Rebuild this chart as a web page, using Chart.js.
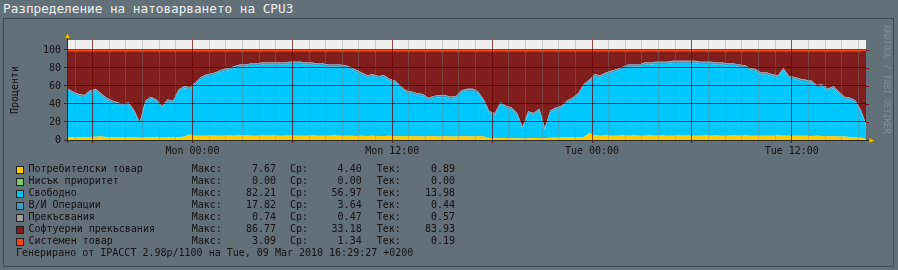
<!DOCTYPE html>
<html>
<head>
<meta charset="utf-8">
<script src="https://cdn.jsdelivr.net/npm/chart.js@4.4.1/dist/chart.umd.min.js"></script>
<style>
  body { margin: 0; background: #617079; }
  #wrap { position: relative; width: 898px; height: 270px; background: #617079; overflow: hidden;
          font-family: 'DejaVu Sans Mono', monospace; }
  #frame { position: absolute; left: 3px; top: 18px; width: 891px; height: 249px; box-sizing: border-box;
           border: 1px solid #3f4b53; }
  #title { position: absolute; left: 3px; top: 1px; font-size: 12.7px; line-height: 15px; color: #f0f0f0; white-space: pre; }
  #cpuChart { position: absolute; left: 0; top: 0; }
  .row { position: absolute; left: 0; width: 898px; height: 12px; font-size: 10px; line-height: 12px; color: #111; white-space: pre; }
  .row span { position: absolute; top: 0; }
  .row .num { text-align: right; }
  .box { position: absolute; width: 8px; height: 8px; box-sizing: border-box; border: 1px solid #222; }
  #wm { position: absolute; left: 882px; top: 25px; writing-mode: vertical-rl; font-size: 8.2px; line-height: 10px;
        color: #7f8c95; white-space: pre; }
</style>
</head>
<body>
<div id="wrap">
  <div id="frame"></div>
  <div id="title">Разпределение на натоварването на CPU3</div>
  <canvas id="cpuChart" width="898" height="270"></canvas>
  <div id="legend"></div>
  <div id="wm">RRDTOOL / TOBI OETIKER</div>
</div>
<script>
// samples every 20 minutes, hours relative to Mon 00:00
const startHour = -7.5;
const stepHours = 1 / 3;

const user = [
  3.2,3.0,3.3,3.1,3.2,3.5,4.0,3.4,3.0,3.1,2.9,3.0,2.8,2.6,2.9,3.1,3.0,3.2,3.3,3.1,3.4,3.6,
  6.0,4.7,4.8,4.6,4.9,4.7,4.8,5.0,4.8,4.9,5.2,4.8,4.7,4.9,4.8,5.0,4.7,4.8,4.9,4.6,
  4.8,4.7,4.9,4.8,4.6,4.7,4.9,4.8,4.6,4.7,4.5,4.6,4.4,4.6,4.5,4.4,4.6,4.3,4.2,4.4,
  4.1,4.2,4.0,4.1,4.2,4.0,4.1,3.9,4.0,4.2,4.1,4.0,4.2,3.8,2.2,2.0,2.1,2.3,2.0,1.9,
  1.8,2.0,2.2,2.1,2.0,2.4,2.6,2.8,3.0,2.9,3.1,3.2,7.5,5.2,4.8,4.9,4.7,4.8,5.0,4.8,
  4.9,4.7,4.8,5.1,4.8,4.9,4.7,4.8,5.0,4.8,4.9,4.7,4.8,5.0,4.8,4.9,4.7,4.8,5.1,4.8,
  4.9,4.7,4.8,4.6,4.8,4.7,4.9,4.8,4.6,4.7,4.8,4.6,4.5,4.6,4.4,4.3,4.2,4.0,3.8,3.2,
  2.9,2.4,0.89
];
const free = [
  51.3,48.5,45.2,44.4,49.3,51.0,45.5,41.1,38.5,36.4,34.6,36.5,27.7,14.9,38.6,42.4,39.5,32.3,39.2,38.4,50.1,53.9,
  50.5,56.8,62.7,65.9,66.6,68.8,71.7,72.5,74.7,76.6,76.3,77.7,77.8,78.6,78.7,78.5,78.8,78.7,79.6,79.9,
  79.7,78.8,78.6,77.7,77.9,76.8,76.6,76.7,75.9,73.8,71.0,67.9,65.1,65.9,64.0,65.1,60.9,59.2,53.3,48.1,
  47.4,45.3,44.5,40.4,42.3,43.5,43.4,41.6,42.5,48.3,50.4,50.5,47.3,38.7,27.3,25.5,37.4,33.2,31.5,25.6,
  10.7,27.5,25.3,30.4,9.5,28.1,30.9,32.7,38.5,41.6,46.4,56.3,57.0,65.3,64.7,67.6,69.8,71.7,73.5,76.7,
  76.6,76.8,78.7,78.4,79.7,79.6,79.8,80.7,80.5,80.7,80.6,80.8,79.7,79.5,79.7,78.6,78.8,77.7,77.4,76.7,
  75.6,72.8,71.7,67.9,67.7,65.8,64.6,72.7,63.9,62.8,60.7,59.9,59.0,53.9,55.1,50.2,53.3,47.5,41.7,41.3,
  38.6,28.1,13.98
];
const iowait = [
  2,2,2,2,2,2,2,2,2,2,2,2,2,2,2,2,2,2,2,2,2,2,
  2,2,2,2,2,2,2,2,2,2,2,2,2,2,2,2,2,2,2,2,
  2,2,2,2,2,2,2,2,2,2,2,2,2,2,2,2,2,2,2,2,
  2,2,2,2,2,2,2,2,2,2,2,2,2,2,2,2,2,2,2,2,
  2,2,2,2,2,2,2,2,2,2,2,2,2,2,2,2,2,2,2,2,
  2,2,2,2,2,2,2,2,2,2,2,2,2,2,2,2,2,2,2,2,
  2,2,2,2,2,2,2,2,2,2,2,2,2,2,2,2,2,2,2,2,
  2,2,0.44
];
const irq = [
  0.5,0.5,0.5,0.5,0.5,0.5,0.5,0.5,0.5,0.5,0.5,0.5,0.5,0.5,0.5,0.5,0.5,0.5,0.5,0.5,0.5,0.5,
  0.5,0.5,0.5,0.5,0.5,0.5,0.5,0.5,0.5,0.5,0.5,0.5,0.5,0.5,0.5,0.5,0.5,0.5,0.5,0.5,
  0.5,0.5,0.5,0.5,0.5,0.5,0.5,0.5,0.5,0.5,0.5,0.5,0.5,0.5,0.5,0.5,0.5,0.5,0.5,0.5,
  0.5,0.5,0.5,0.5,0.5,0.5,0.5,0.5,0.5,0.5,0.5,0.5,0.5,0.5,0.5,0.5,0.5,0.5,0.5,0.5,
  0.5,0.5,0.5,0.5,0.5,0.5,0.5,0.5,0.5,0.5,0.5,0.5,0.5,0.5,0.5,0.5,0.5,0.5,0.5,0.5,
  0.5,0.5,0.5,0.5,0.5,0.5,0.5,0.5,0.5,0.5,0.5,0.5,0.5,0.5,0.5,0.5,0.5,0.5,0.5,0.5,
  0.5,0.5,0.5,0.5,0.5,0.5,0.5,0.5,0.5,0.5,0.5,0.5,0.5,0.5,0.5,0.5,0.5,0.5,0.5,0.5,
  0.5,0.5,0.57
];
const softirq = [
  41.7,44.7,47.7,48.7,43.7,41.7,46.7,51.7,54.7,56.7,58.7,56.7,65.7,78.7,54.7,50.7,53.7,60.7,53.7,54.7,42.7,38.7,
  39.7,34.7,28.7,25.7,24.7,22.7,19.7,18.7,16.7,14.7,14.7,13.7,13.7,12.7,12.7,12.7,12.7,12.7,11.7,11.7,
  11.7,12.7,12.7,13.7,13.7,14.7,14.7,14.7,15.7,17.7,20.7,23.7,26.7,25.7,27.7,26.7,30.7,32.7,38.7,43.7,
  44.7,46.7,47.7,51.7,49.7,48.7,48.7,50.7,49.7,43.7,41.7,41.7,44.7,53.7,66.7,68.7,56.7,60.7,62.7,68.7,
  83.7,66.7,68.7,63.7,84.7,65.7,62.7,60.7,54.7,51.7,46.7,36.7,31.7,25.7,26.7,23.7,21.7,19.7,17.7,14.7,
  14.7,14.7,12.7,12.7,11.7,11.7,11.7,10.7,10.7,10.7,10.7,10.7,11.7,11.7,11.7,12.7,12.7,13.7,13.7,14.7,
  15.7,18.7,19.7,23.7,23.7,25.7,26.7,18.7,27.7,28.7,30.7,31.7,32.7,37.7,36.7,41.7,38.7,44.7,50.7,51.7,
  54.7,65.7,83.93
];
const system = [
  1.3,1.3,1.3,1.3,1.3,1.3,1.3,1.3,1.3,1.3,1.3,1.3,1.3,1.3,1.3,1.3,1.3,1.3,1.3,1.3,1.3,1.3,
  1.3,1.3,1.3,1.3,1.3,1.3,1.3,1.3,1.3,1.3,1.3,1.3,1.3,1.3,1.3,1.3,1.3,1.3,1.3,1.3,
  1.3,1.3,1.3,1.3,1.3,1.3,1.3,1.3,1.3,1.3,1.3,1.3,1.3,1.3,1.3,1.3,1.3,1.3,1.3,1.3,
  1.3,1.3,1.3,1.3,1.3,1.3,1.3,1.3,1.3,1.3,1.3,1.3,1.3,1.3,1.3,1.3,1.3,1.3,1.3,1.3,
  1.3,1.3,1.3,1.3,1.3,1.3,1.3,1.3,1.3,1.3,1.3,1.3,1.3,1.3,1.3,1.3,1.3,1.3,1.3,1.3,
  1.3,1.3,1.3,1.3,1.3,1.3,1.3,1.3,1.3,1.3,1.3,1.3,1.3,1.3,1.3,1.3,1.3,1.3,1.3,1.3,
  1.3,1.3,1.3,1.3,1.3,1.3,1.3,1.3,1.3,1.3,1.3,1.3,1.3,1.3,1.3,1.3,1.3,1.3,1.3,1.3,
  1.3,1.3,0.19
];

// legend rows
const seriesNames = ["Потребителски товар", "Нисък приоритет", "Свободно", "В/И Операции",
                     "Прекъсвания", "Софтуерни прекъсвания", "Системен товар"];
const seriesColors = ["#ffcc00", "#77cc66", "#00c8ff", "#3aa0c8", "#a0a0a0", "#801e1e", "#ff4410"];
const maxVals = [7.67, 0.00, 82.21, 17.82, 0.74, 86.77, 3.09];
const avgVals = [4.40, 0.00, 56.97, 3.64, 0.47, 33.18, 1.34];
const curVals = [0.89, 0.00, 13.98, 0.44, 0.57, 83.93, 0.19];
const footerText = "Генерирано от IPACCT 2.98p/1100 на Tue, 09 Mar 2010 16:29:27 +0200";

const yTicks = [0, 20, 40, 60, 80, 100];
const xLabelHours = [0, 12, 24, 36];
const xLabelTexts = ["Mon 00:00", "Mon 12:00", "Tue 00:00", "Tue 12:00"];

const times = user.map((_, i) => startHour + i * stepHours);
const pts = arr => arr.map((v, i) => ({ x: times[i], y: v }));

const hourTicks = [];
for (let h = -7; h <= 40; h++) hourTicks.push(h);

const monoFont = { family: "'DejaVu Sans Mono', monospace", size: 10 };

// ---- legend (html) ----
const legendEl = document.getElementById("legend");
function addSpan(row, text, left, width, cls) {
  const s = document.createElement("span");
  s.textContent = text;
  s.style.left = left + "px";
  if (width) s.style.width = width + "px";
  if (cls) s.className = cls;
  row.appendChild(s);
}
seriesNames.forEach((name, i) => {
  const row = document.createElement("div");
  row.className = "row";
  row.style.top = (163 + 12 * i) + "px";
  const box = document.createElement("div");
  box.className = "box";
  box.style.left = "16px";
  box.style.top = "3px";
  box.style.background = seriesColors[i];
  row.appendChild(box);
  addSpan(row, name, 28.5);
  addSpan(row, "Макс:", 191.7);
  addSpan(row, maxVals[i].toFixed(2), 216, 60, "num");
  addSpan(row, "Ср:", 290);
  addSpan(row, avgVals[i].toFixed(2), 301.7, 60, "num");
  addSpan(row, "Тек:", 376.7);
  addSpan(row, curVals[i].toFixed(2), 395, 60, "num");
  legendEl.appendChild(row);
});
const foot = document.createElement("div");
foot.className = "row";
foot.style.top = (163 + 12 * 7) + "px";
addSpan(foot, footerText, 16);
legendEl.appendChild(foot);

// ---- chart ----
const plotDeco = {
  id: "plotDeco",
  beforeDatasetsDraw(chart) {
    const { ctx, chartArea: a } = chart;
    ctx.save();
    ctx.fillStyle = "#efefef";
    ctx.fillRect(a.left, a.top, a.right - a.left, a.bottom - a.top);
    ctx.restore();
  },
  afterDraw(chart) {
    const { ctx, chartArea: a, scales } = chart;
    ctx.save();
    ctx.lineWidth = 1;
    // small marks to the right of the plot
    ctx.strokeStyle = "rgba(120,10,10,0.9)";
    yTicks.forEach(v => {
      const py = Math.round(scales.y.getPixelForValue(v)) + 0.5;
      ctx.beginPath(); ctx.moveTo(a.right, py); ctx.lineTo(a.right + 3, py); ctx.stroke();
    });
    // axes
    ctx.strokeStyle = "#2a2a2a";
    const by = Math.round(a.bottom) + 0.5;
    const lx = Math.round(a.left) + 0.5;
    ctx.beginPath(); ctx.moveTo(a.left - 3, by); ctx.lineTo(a.right + 3, by); ctx.stroke();
    ctx.beginPath(); ctx.moveTo(lx, a.bottom + 3); ctx.lineTo(lx, a.top - 2); ctx.stroke();
    // arrows
    ctx.fillStyle = "#f2c200";
    ctx.strokeStyle = "#6b5a10";
    ctx.lineWidth = 0.6;
    ctx.beginPath(); ctx.moveTo(lx, a.top - 7); ctx.lineTo(lx - 3, a.top - 1.5); ctx.lineTo(lx + 3, a.top - 1.5); ctx.closePath();
    ctx.fill(); ctx.stroke();
    ctx.beginPath(); ctx.moveTo(a.right + 9, by); ctx.lineTo(a.right + 3, by - 3); ctx.lineTo(a.right + 3, by + 3); ctx.closePath();
    ctx.fill(); ctx.stroke();
    ctx.restore();
  }
};

function area(label, data, color, fill) {
  return {
    label: label,
    data: pts(data),
    backgroundColor: color,
    borderWidth: 0,
    pointRadius: 0,
    tension: 0,
    fill: fill
  };
}

new Chart(document.getElementById("cpuChart"), {
  type: "line",
  data: {
    datasets: [
      area(seriesNames[0], user, seriesColors[0], "origin"),
      area(seriesNames[2], free, seriesColors[2], "-1"),
      area(seriesNames[3], iowait, seriesColors[3], "-1"),
      area(seriesNames[4], irq, seriesColors[4], "-1"),
      area(seriesNames[5], softirq, seriesColors[5], "-1"),
      area(seriesNames[6], system, seriesColors[6], "-1")
    ]
  },
  options: {
    responsive: false,
    devicePixelRatio: 1,
    animation: false,
    layout: { padding: { left: 0, top: 40, right: 32, bottom: 110 } },
    plugins: { legend: { display: false }, tooltip: { enabled: false } },
    scales: {
      x: {
        type: "linear",
        min: -7.54,
        max: 40.46,
        afterBuildTicks: s => { s.ticks = hourTicks.map(v => ({ value: v })); },
        afterFit: s => { s.height = 20; },
        border: { display: false },
        grid: {
          z: 1,
          color: c => (c.tick.value % 6 === 0 ? "rgba(110,0,0,0.7)" : "rgba(128,128,128,0.35)"),
          lineWidth: 1,
          tickLength: 3,
          tickColor: c => (c.tick.value % 6 === 0 ? "rgba(90,0,0,0.8)" : "rgba(0,0,0,0)")
        },
        ticks: {
          autoSkip: false,
          maxRotation: 0,
          padding: 2,
          color: "#111",
          font: monoFont,
          callback: v => {
            const k = xLabelHours.indexOf(v);
            return k >= 0 ? xLabelTexts[k] : "";
          }
        }
      },
      y: {
        stacked: true,
        min: 0,
        max: 111.1,
        afterBuildTicks: s => { s.ticks = yTicks.map(v => ({ value: v })); },
        afterFit: s => { s.width = 67; },
        border: { display: false },
        grid: { z: 1, color: "rgba(60,0,0,0.7)", lineWidth: 1, tickLength: 3, tickColor: "#2a2a2a" },
        ticks: { padding: 3, color: "#111", font: monoFont },
        title: { display: true, text: "Проценти", color: "#111", font: monoFont, padding: { top: 9.5, bottom: 0 } }
      }
    }
  },
  plugins: [plotDeco]
});
</script>
</body>
</html>
